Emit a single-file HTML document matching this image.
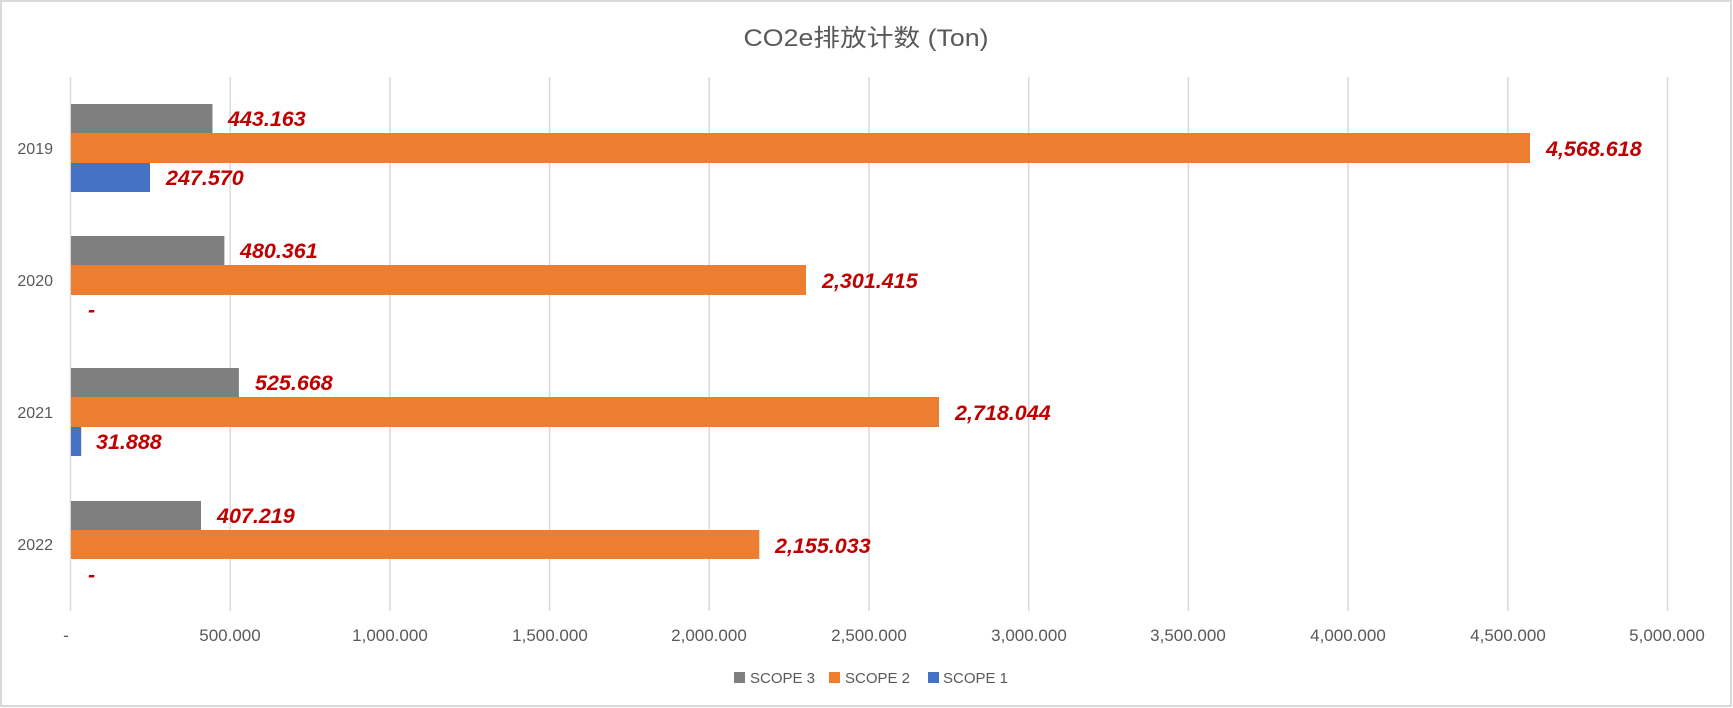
<!DOCTYPE html>
<html><head><meta charset="utf-8"><style>
html,body{margin:0;padding:0;background:#fff}
svg{display:block}
text{font-family:"Liberation Sans","Noto Sans CJK SC",sans-serif}
.t{font-size:17px;fill:#595959}
.y{font-size:16px;fill:#595959}
.g{font-size:15px;fill:#595959}
.l{font-size:21.5px;font-weight:bold;font-style:italic;fill:#C00000}
</style></head><body>
<svg width="1733" height="708" viewBox="0 0 1733 708">
<rect x="1" y="1" width="1730" height="705" fill="#fff" stroke="#d9d9d9" stroke-width="2"/>
<text x="866" y="46" text-anchor="middle" textLength="245" lengthAdjust="spacingAndGlyphs" style="font-size:24px;fill:#595959">CO2e排放计数 (Ton)</text>
<g stroke="#d9d9d9" stroke-width="1.5">
<line x1="70.5" y1="77" x2="70.5" y2="611"/>
<line x1="230.2" y1="77" x2="230.2" y2="611"/>
<line x1="389.9" y1="77" x2="389.9" y2="611"/>
<line x1="549.6" y1="77" x2="549.6" y2="611"/>
<line x1="709.3" y1="77" x2="709.3" y2="611"/>
<line x1="869" y1="77" x2="869" y2="611"/>
<line x1="1028.7" y1="77" x2="1028.7" y2="611"/>
<line x1="1188.4" y1="77" x2="1188.4" y2="611"/>
<line x1="1348.1" y1="77" x2="1348.1" y2="611"/>
<line x1="1507.8" y1="77" x2="1507.8" y2="611"/>
<line x1="1667.5" y1="77" x2="1667.5" y2="611"/>
</g>
<g class="t" text-anchor="middle">
<text x="66" y="641">-</text>
<text x="230" y="641">500.000</text>
<text x="390" y="641">1,000.000</text>
<text x="550" y="641">1,500.000</text>
<text x="709" y="641">2,000.000</text>
<text x="869" y="641">2,500.000</text>
<text x="1029" y="641">3,000.000</text>
<text x="1188" y="641">3,500.000</text>
<text x="1348" y="641">4,000.000</text>
<text x="1508" y="641">4,500.000</text>
<text x="1667" y="641">5,000.000</text>
</g>
<g class="y" text-anchor="end">
<text x="53" y="154">2019</text>
<text x="53" y="286">2020</text>
<text x="53" y="418">2021</text>
<text x="53" y="550">2022</text>
</g>
<rect x="71" y="104" width="141.5" height="29" fill="#7f7f7f"/>
<rect x="71" y="133" width="1459" height="30" fill="#ed7d31"/>
<rect x="71" y="163" width="79" height="29" fill="#4472c4"/>
<text class="l" x="228" y="126">443.163</text>
<text class="l" x="1546" y="156">4,568.618</text>
<text class="l" x="166" y="185">247.570</text>
<rect x="71" y="236" width="153.4" height="29" fill="#7f7f7f"/>
<rect x="71" y="265" width="735" height="30" fill="#ed7d31"/>
<text class="l" x="240" y="258">480.361</text>
<text class="l" x="822" y="288">2,301.415</text>
<text class="l" x="88" y="317">-</text>
<rect x="71" y="368" width="167.9" height="29" fill="#7f7f7f"/>
<rect x="71" y="397" width="868" height="30" fill="#ed7d31"/>
<rect x="71" y="427" width="10.2" height="29" fill="#4472c4"/>
<text class="l" x="255" y="390">525.668</text>
<text class="l" x="955" y="420">2,718.044</text>
<text class="l" x="96" y="449">31.888</text>
<rect x="71" y="501" width="130" height="29" fill="#7f7f7f"/>
<rect x="71" y="530" width="688.3" height="29" fill="#ed7d31"/>
<text class="l" x="217" y="523">407.219</text>
<text class="l" x="775" y="553">2,155.033</text>
<text class="l" x="88" y="582">-</text>
<rect x="734" y="672" width="11" height="11" fill="#7f7f7f"/>
<text class="g" x="750" y="683">SCOPE 3</text>
<rect x="829" y="672" width="11" height="11" fill="#ed7d31"/>
<text class="g" x="845" y="683">SCOPE 2</text>
<rect x="928" y="672" width="11" height="11" fill="#4472c4"/>
<text class="g" x="943" y="683">SCOPE 1</text>
</svg>
</body></html>
